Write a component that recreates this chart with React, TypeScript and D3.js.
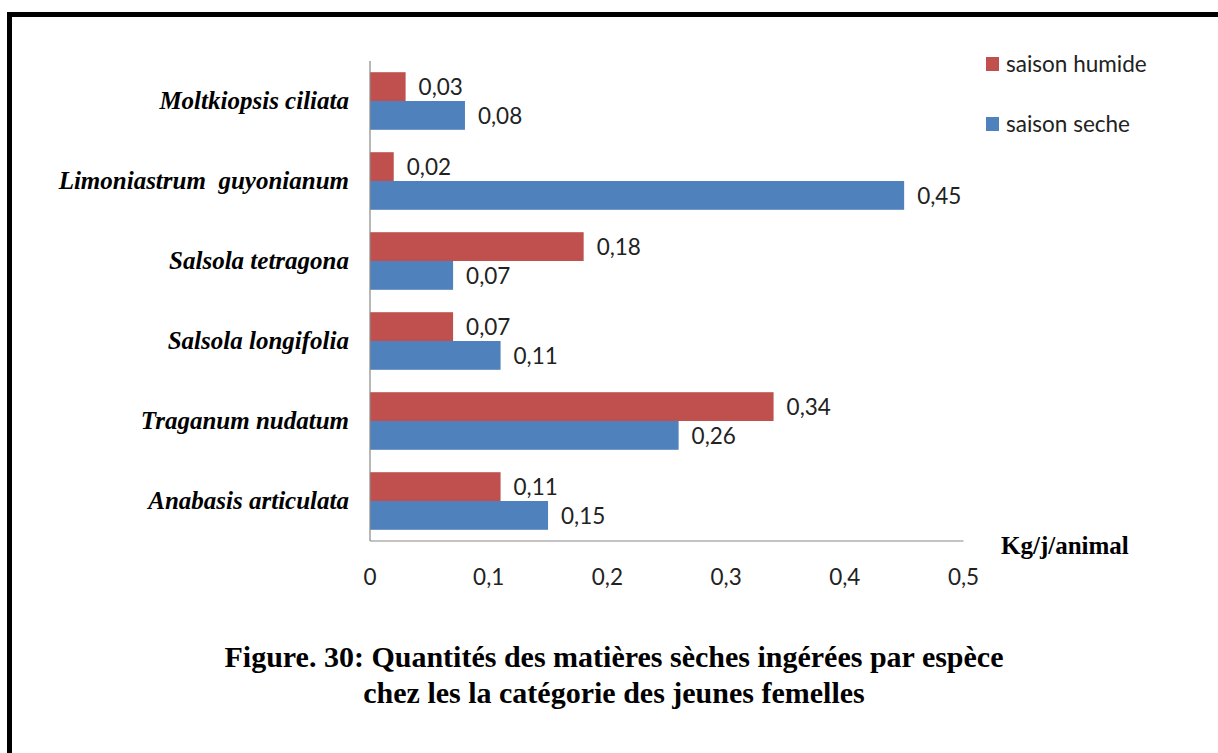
import React from "react";
import * as d3 from "d3";

const species = [
  "Moltkiopsis ciliata",
  "Limoniastrum  guyonianum",
  "Salsola tetragona",
  "Salsola longifolia",
  "Traganum nudatum",
  "Anabasis articulata",
];
const humide = [0.03, 0.02, 0.18, 0.07, 0.34, 0.11];
const seche = [0.08, 0.45, 0.07, 0.11, 0.26, 0.15];
const xTicks = [0, 0.1, 0.2, 0.3, 0.4, 0.5];
const seriesNames = ["saison humide", "saison seche"];
const seriesColors = ["#C0504D", "#4F81BD"];
const unitLabel = "Kg/j/animal";
const titleLines = [
  "Figure. 30: Quantités des matières sèches ingérées par espèce",
  "chez les la catégorie des jeunes femelles",
];

const W = 1218;
const H = 753;

const locale = d3.formatLocale({ decimal: ",", thousands: " ", grouping: [3], currency: ["", "€"] });
const fmtVal = locale.format(".2f");
const fmtTick = (v: number) => (v === 0 ? "0" : locale.format(".1f")(v));

const sansFont = "Lato, 'Open Sans', sans-serif";
const serifFont = "'Liberation Serif', 'Times New Roman', serif";
const sansSize = 22.5;

export default function App() {
  const x = d3.scaleLinear().domain([0, 0.5]).range([370, 963.5]);
  const y = d3
    .scaleBand<string>()
    .domain(species)
    .range([61, 541])
    .paddingInner(0.28)
    .paddingOuter(0.14);
  const bh = y.bandwidth() / 2;
  const series = [humide, seche];

  return (
    <svg
      width={W}
      height={H}
      style={{ position: "absolute", left: 0, top: 0, background: "#fff" }}
    >
      <rect x={0} y={0} width={W} height={H} fill="#fff" />
      {/* frame */}
      <line x1={9.5} y1={14.5} x2={W} y2={14.5} stroke="#000" strokeWidth={5} />
      <line x1={9.5} y1={12} x2={9.5} y2={H} stroke="#000" strokeWidth={5} />

      {/* bars */}
      {species.map((s, i) =>
        series.map((vals, k) => {
          const y0 = (y(s) as number) + k * bh;
          return (
            <g key={s + k}>
              <rect
                x={x(0)}
                y={y0}
                width={x(vals[i]) - x(0)}
                height={bh}
                fill={seriesColors[k]}
              />
              <text
                x={x(vals[i]) + 13}
                y={y0 + bh / 2 + 8.3}
                fontFamily={sansFont}
                fontSize={sansSize}
                fill="#222"
              >
                {fmtVal(vals[i])}
              </text>
            </g>
          );
        })
      )}

      {/* axes */}
      <line x1={x(0)} y1={61} x2={x(0)} y2={541} stroke="#888" strokeWidth={1.2} />
      <line x1={x(0)} y1={541} x2={x(0.5)} y2={541} stroke="#888" strokeWidth={1.2} />

      {/* category labels */}
      {species.map((s) => (
        <text
          key={s}
          x={349}
          y={(y(s) as number) + y.bandwidth() / 2 + 7.5}
          textAnchor="end"
          fontFamily={serifFont}
          fontStyle="italic"
          fontWeight="bold"
          fontSize={25}
          fill="#000"
          style={{ whiteSpace: "pre" }}
        >
          {s}
        </text>
      ))}

      {/* tick labels */}
      {xTicks.map((t) => (
        <text
          key={t}
          x={x(t)}
          y={585}
          textAnchor="middle"
          fontFamily={sansFont}
          fontSize={sansSize}
          fill="#222"
        >
          {fmtTick(t)}
        </text>
      ))}

      <text
        x={1001}
        y={554}
        fontFamily={serifFont}
        fontWeight="bold"
        fontSize={25}
        fill="#000"
      >
        {unitLabel}
      </text>

      {/* legend */}
      {seriesNames.map((n, k) => (
        <g key={n} transform={`translate(986, ${57 + k * 60})`}>
          <rect x={0} y={0} width={13} height={14} fill={seriesColors[k]} />
          <text
            x={20}
            y={14.5}
            fontFamily={sansFont}
            fontSize={sansSize}
            fill="#222"
          >
            {n}
          </text>
        </g>
      ))}

      {/* title */}
      {titleLines.map((t, i) => (
        <text
          key={i}
          x={614}
          y={667 + i * 36}
          textAnchor="middle"
          fontFamily={serifFont}
          fontWeight="bold"
          fontSize={30}
          fill="#000"
        >
          {t}
        </text>
      ))}
    </svg>
  );
}
